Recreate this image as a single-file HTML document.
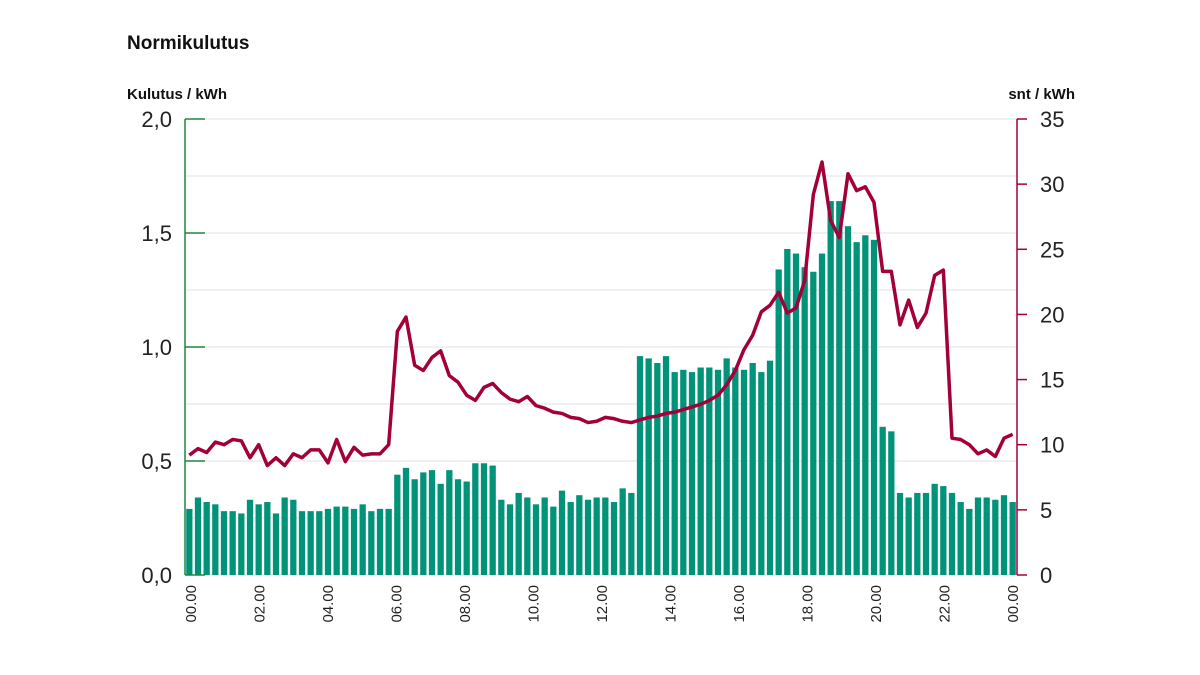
<!DOCTYPE html>
<html><head><meta charset="utf-8"><style>
body{margin:0;background:#fff;font-family:"Liberation Sans",sans-serif}
svg{display:block}
</style></head><body>
<svg id="c" width="1200" height="675">
<text x="127" y="49" font-size="19" font-weight="bold" fill="#111">Normikulutus</text>
<text x="127" y="99" font-size="15" font-weight="bold" fill="#111">Kulutus / kWh</text>
<text x="1075" y="99" font-size="15" font-weight="bold" fill="#111" text-anchor="end">snt / kWh</text>
<g id="grid"></g><g id="bars"></g><g id="axes"></g><g id="line"></g><g id="xl"></g>
</svg>
<script>
const consumption=[0.29,0.34,0.32,0.31,0.28,0.28,0.27,0.33,0.31,0.32,0.27,0.34,0.33,0.28,0.28,0.28,0.29,0.30,0.30,0.29,0.31,0.28,0.29,0.29,
0.44,0.47,0.42,0.45,0.46,0.40,0.46,0.42,0.41,0.49,0.49,0.48,0.33,0.31,0.36,0.34,0.31,0.34,0.30,0.37,0.32,0.35,0.33,0.34,0.34,0.32,0.38,0.36,
0.96,0.95,0.93,0.96,0.89,0.90,0.89,0.91,0.91,0.90,0.95,0.91,
0.90,0.93,0.89,0.94,1.34,1.43,1.41,1.35,1.33,1.41,1.64,1.64,1.53,1.46,1.49,1.47,0.65,0.63,0.36,0.34,0.36,0.36,0.40,0.39,0.36,0.32,0.29,0.34,0.34,0.33,0.35,0.32];
const price=[9.2,9.7,9.4,10.2,10.0,10.4,10.3,9.0,10.0,8.4,9.0,8.4,9.3,9.0,9.6,9.6,8.6,10.4,8.7,9.8,9.2,9.3,9.3,10.0,
18.7,19.8,16.1,15.7,16.7,17.2,15.3,14.8,13.8,13.4,14.4,14.7,14.0,13.5,13.3,13.7,13.0,12.8,12.5,12.4,12.1,12.0,11.7,11.8,12.1,12.0,11.8,11.7,
11.9,12.1,12.2,12.4,12.5,12.7,12.9,13.1,13.4,13.8,14.6,15.7,
17.3,18.4,20.2,20.7,21.7,20.1,20.5,22.6,29.2,31.7,27.2,25.9,30.8,29.5,29.8,28.6,23.3,23.3,19.2,21.1,19.0,20.1,23.0,23.4,10.5,10.4,10.0,9.3,9.6,9.1,10.5,10.8];
const leftTicks=["0,0","0,5","1,0","1,5","2,0"];
const rightTicks=["0","5","10","15","20","25","30","35"];
const xLabels=["00.00","02.00","04.00","06.00","08.00","10.00","12.00","14.00","16.00","18.00","20.00","22.00","00.00"];
const NS="http://www.w3.org/2000/svg";
const X0=185,X1=1017,Y0=575,Y1=119;
const yL=v=>Y0-(v/2)*(Y0-Y1);
const yR=v=>Y0-(v/35)*(Y0-Y1);
const bw=(X1-X0)/consumption.length;
const xc=i=>X0+(i+0.5)*bw;
function mk(t,a,p){const e=document.createElementNS(NS,t);for(const k in a)e.setAttribute(k,a[k]);document.getElementById(p).appendChild(e);return e;}
for(let k=0;k<=8;k++){const y=yL(k*0.25);
const g=mk('line',{x1:X0,x2:X1,y1:y,y2:y,stroke:'#e2e2e2','stroke-width':1},'grid');

}
consumption.forEach((v,i)=>{const r=mk('rect',{x:X0+i*bw+1.2,y:yL(v),width:bw-2.4,height:Y0-yL(v),fill:'#00937a'},'bars');

});
let al=mk('line',{x1:X0,x2:X0,y1:Y1,y2:Y0,stroke:'#1a8a3e','stroke-width':1.5},'axes');


let ar=mk('line',{x1:X1,x2:X1,y1:Y1,y2:Y0,stroke:'#a3003a','stroke-width':1.5},'axes');


leftTicks.forEach((t,i)=>{const y=yL(i*0.5);
const tk=mk('line',{x1:X0,x2:X0+20,y1:y,y2:y,stroke:'#1a8a3e','stroke-width':1.5},'axes');


const tx=mk('text',{x:172,y:y+8,'font-size':22,'text-anchor':'end',fill:'#222'},'axes');tx.textContent=t;

});
rightTicks.forEach((t,i)=>{const y=yR(i*5);
const tk=mk('line',{x1:X1,x2:X1+10,y1:y,y2:y,stroke:'#a3003a','stroke-width':1.5},'axes');


const tx=mk('text',{x:1040,y:y+8,'font-size':22,fill:'#222'},'axes');tx.textContent=t;

});
const pl=mk('polyline',{points:price.map((v,i)=>xc(i)+','+yR(v)).join(' '),fill:'none',stroke:'#a3003a','stroke-width':3.5,'stroke-linejoin':'round'},'line');


xLabels.forEach((t,i)=>{const x=191+i*(1013-191)/(xLabels.length-1);
const tx=mk('text',{x:0,y:0,'font-size':15,'text-anchor':'end',fill:'#222',transform:`translate(${x+5},585) rotate(-90)`},'xl');tx.textContent=t;

});
</script>
</body></html>
